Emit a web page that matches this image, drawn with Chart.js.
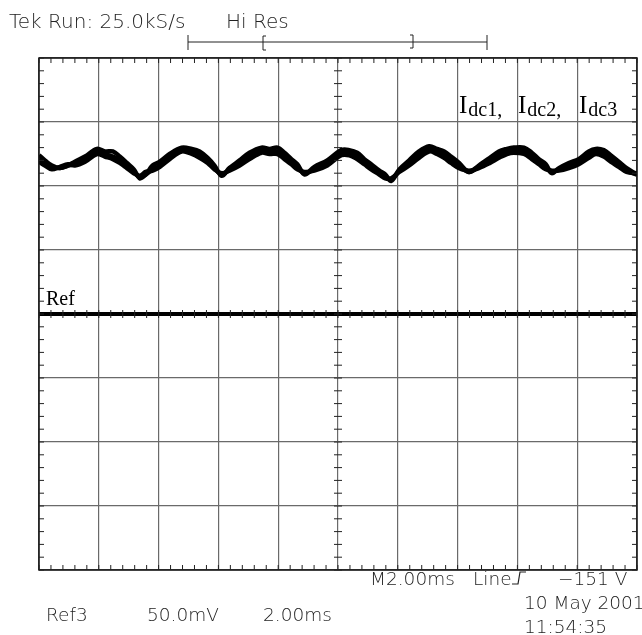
<!DOCTYPE html>
<html><head><meta charset="utf-8">
<script src="https://cdn.jsdelivr.net/npm/chart.js@4.4.0/dist/chart.umd.min.js"></script>
<style>html,body{margin:0;padding:0;background:#fff;}#wrap{position:relative;width:642px;height:635px;}</style>
</head><body><div id="wrap"><canvas id="c" width="642" height="635"></canvas></div>
<script>
// time axis (ms), 2 ms/div, 10 divisions
const timeMs = [0.00,0.20,0.43,0.70,0.97,1.20,1.54,1.94,2.20,2.47,2.70,2.94,3.17,3.37,3.57,3.80,4.04,4.37,4.77,5.11,5.37,5.64,5.87,6.11,6.37,6.71,7.04,7.44,7.71,7.98,8.21,8.44,8.64,8.88,9.21,9.64,10.11,10.38,10.64,10.88,11.11,11.38,11.58,11.78,12.05,12.38,12.71,13.05,13.31,13.55,13.78,14.05,14.38,14.71,15.08,15.38,15.65,15.88,16.22,16.48,16.72,16.95,17.15,17.39,17.72,18.05,18.39,18.62,18.89,19.12,19.39,19.65,20.00];
// DC currents (mV on Ref3, 50 mV/div)
const idc1 = [121,118,115,114,116,117,121,127,125,123,120,116,111,107,109,113,116,123,128,127,124,120,114,109,113,118,123,128,127,127,123,119,115,110,113,118,126,126,123,119,115,110,107,105,112,118,124,129,127,124,120,116,111,115,120,124,127,128,127,123,119,115,111,113,116,119,124,127,125,121,117,112,109];
const idc2 = [124,120,116,114,116,119,123,129,127,127,123,118,113,106,109,116,119,125,130,129,127,122,116,108,114,120,126,130,129,130,126,121,117,109,115,120,128,128,126,121,117,112,109,104,113,120,127,131,129,127,123,118,111,116,122,127,129,130,130,126,121,117,110,114,118,121,127,129,128,124,119,114,109];
const idc3 = [119,116,113,115,117,116,119,125,123,121,118,114,110,108,111,112,115,121,127,125,122,118,113,110,112,116,121,126,125,125,121,117,113,111,112,116,124,124,121,117,113,109,106,106,111,116,122,127,125,122,118,114,112,114,118,122,125,126,125,121,117,113,112,112,114,117,122,125,123,119,115,111,110];
const refTime = [0, 20];
const refLevel = [0, 0];
const xTicks = [0,2,4,6,8,10,12,14,16,18,20];
const yTicks = [-200,-150,-100,-50,0,50,100,150,200];

const pts = (xs, ys) => xs.map((x, i) => ({x, y: ys[i]}));
const trace = (lbl, ys) => ({label: lbl, data: pts(timeMs, ys), borderColor: '#000', borderWidth: 4.5, pointRadius: 0, tension: 0.35, fill: false});

const FONT_SANS = '"DejaVu Sans", sans-serif';
const FONT_SERIF = '"Liberation Serif", "DejaVu Serif", serif';

const deco = {
  id: 'deco',
  afterDraw(chart) {
    const ctx = chart.ctx, xs = chart.scales.x, ys = chart.scales.y, a = chart.chartArea;
    ctx.save();
    // frame
    ctx.strokeStyle = '#111'; ctx.lineWidth = 1.5;
    ctx.strokeRect(a.left, a.top, a.right - a.left, a.bottom - a.top);
    // minor ticks
    ctx.lineWidth = 1; ctx.strokeStyle = '#222';
    const cx = xs.getPixelForValue(10), cy = ys.getPixelForValue(0);
    ctx.beginPath();
    for (let v = 0; v <= 20.001; v += 0.4) {
      const px = xs.getPixelForValue(v);
      ctx.moveTo(px, a.top); ctx.lineTo(px, a.top + 5);
      ctx.moveTo(px, a.bottom); ctx.lineTo(px, a.bottom - 5);
      ctx.moveTo(px, cy - 4); ctx.lineTo(px, cy + 4);
    }
    for (let v = -200; v <= 200.001; v += 10) {
      const py = ys.getPixelForValue(v);
      ctx.moveTo(a.left, py); ctx.lineTo(a.left + 5, py);
      ctx.moveTo(a.right, py); ctx.lineTo(a.right - 5, py);
      ctx.moveTo(cx - 4, py); ctx.lineTo(cx + 4, py);
    }
    ctx.stroke();
    // record bracket
    ctx.strokeStyle = '#222'; ctx.lineWidth = 1;
    ctx.beginPath();
    ctx.moveTo(188, 42); ctx.lineTo(487, 42);
    ctx.moveTo(188, 35); ctx.lineTo(188, 50);
    ctx.moveTo(487, 35); ctx.lineTo(487, 50);
    ctx.moveTo(266, 36); ctx.lineTo(263, 36); ctx.lineTo(263, 50); ctx.lineTo(266, 50);
    ctx.moveTo(410, 35); ctx.lineTo(413, 35); ctx.lineTo(413, 48); ctx.lineTo(410, 48);
    ctx.stroke();
    // scope text
    ctx.fillStyle = '#222'; ctx.textBaseline = 'alphabetic'; ctx.textAlign = 'left';
    ctx.font = '200 20px ' + FONT_SANS;
    ctx.fillText('Tek Run: 25.0kS/s', 9, 28);
    ctx.fillText('Hi Res', 226, 28);
    ctx.font = '200 18.5px ' + FONT_SANS;
    ctx.fillText('M2.00ms', 370, 585);
    ctx.fillText('Line', 473, 585);
    ctx.fillText('\u2212151 V', 558, 585);
    ctx.fillText('10 May 2001', 524, 609);
    ctx.fillText('11:54:35', 524, 633);
    ctx.fillText('Ref3', 46, 621);
    ctx.fillText('50.0mV', 147, 621);
    ctx.fillText('2.00ms', 263, 621);
    // trigger slope symbol
    ctx.beginPath(); ctx.lineWidth = 1.2;
    ctx.moveTo(512, 584); ctx.lineTo(518, 584); ctx.lineTo(520, 572); ctx.lineTo(526, 572);
    ctx.stroke();
    // serif labels
    ctx.fillStyle = '#000';
    ctx.font = '20px ' + FONT_SERIF;
    ctx.fillText('Ref', 46, 305);
    const lab = [[459, '1,'], [518, '2,'], [579, '3']];
    lab.forEach(([x, s]) => {
      ctx.font = '25px ' + FONT_SERIF; ctx.fillText('I', x, 113);
      const w = ctx.measureText('I').width;
      ctx.font = '20px ' + FONT_SERIF; ctx.fillText('dc' + s, x + w + 1, 116);
    });
    ctx.restore();
  }
};

new Chart(document.getElementById('c'), {
  type: 'line',
  data: {
    datasets: [
      {label: 'Ref', data: pts(refTime, refLevel), borderColor: '#000', borderWidth: 4, pointRadius: 0},
      trace('Idc1', idc1), trace('Idc2', idc2), trace('Idc3', idc3)
    ]
  },
  options: {
    responsive: false, animation: false, devicePixelRatio: 1,
    layout: {padding: {left: 39, top: 58, right: 5, bottom: 65}},
    plugins: {legend: {display: false}, tooltip: {enabled: false}},
    scales: {
      x: {type: 'linear', min: 0, max: 20, afterBuildTicks: s => { s.ticks = xTicks.map(v => ({value: v})); },
          ticks: {display: false}, grid: {color: '#6a6a6a', lineWidth: 1.2, drawTicks: false}, border: {display: false}},
      y: {type: 'linear', min: -200, max: 200, afterBuildTicks: s => { s.ticks = yTicks.map(v => ({value: v})); },
          ticks: {display: false}, grid: {color: '#6a6a6a', lineWidth: 1.2, drawTicks: false}, border: {display: false}}
    }
  },
  plugins: [deco]
});
</script></body></html>
